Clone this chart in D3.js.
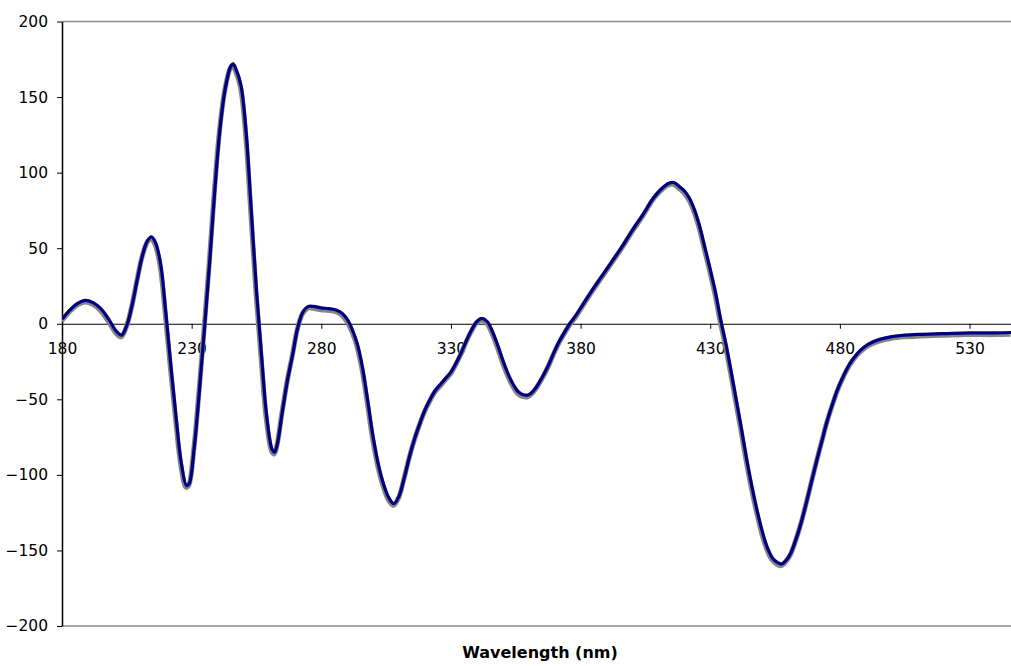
<!DOCTYPE html>
<html>
<head>
<meta charset="utf-8">
<script src="https://cdn.jsdelivr.net/npm/d3@7"></script>
<style>
  html, body { margin: 0; padding: 0; background: #fff; }
  svg { display: block; font-family: "DejaVu Sans", Verdana, sans-serif; }
</style>
</head>
<body>
<svg id="chart" width="1011" height="666"></svg>
<script>
// ---- data ----
const wavelengths = [180,183,186,189,192,195,198,201,203,205,207,209,211,213,214.5,216,218,220,222,224,226,228,229,231,233,235,237,239,241,243,245,246,247,249,251,253,255,257,259,261,262,263,265,267,269,271,273,275,277,280,283,286,288,290,292,294,296,298,300,302,304,306,308,310,312,314,316,318,320,322,324,326,328,330,332,334,336,338,340,342,344,346,348,350,352,354,356,358,360,362,364,366,368,370,372,374,376,378,381,384,388,392,396,400,404,408,411,414,416,418,420,422,424,426,428,430,432,434,436,438,440,442,444,446,448,450,452,454,456,457.5,459,461,463,465,467,469,471,473,475,477,479,481,483,485,488,491,495,500,505,510,520,530,540,546];
const cdValues = [3,9,13.5,15.5,14,10,3,-5,-7.5,-1,12,29,45,55,57.5,54,40,8,-28,-62,-92,-107,-106,-82,-44,-2,42,90,130,156,170,172,169,158,127,75,22,-22,-62,-83,-85,-80,-58,-37,-20,-2,8,11.5,11.5,10.5,10,9,7,3,-4,-14,-30,-52,-75,-93,-106,-115,-119,-114,-102,-88,-76,-66,-57,-50,-44,-40,-36,-32,-26,-19,-11,-4,1.5,3.5,1.5,-5,-14,-24,-33,-40,-45,-47,-47,-44,-39,-33,-26,-18,-11,-5,0.5,5,13,21,31,41,51,62,72,83,89,93,93.5,91,88,83,75,64,50,36,21,3,-13,-31,-50,-69,-89,-107,-123,-137,-148,-155,-158,-159,-157,-152,-143,-132,-119,-105,-91,-78,-65,-54,-44,-36,-29,-23.5,-17.5,-13.5,-10.5,-8.5,-7.5,-7,-6.5,-6,-6,-5.8];
const xTicks = [180,230,280,330,380,430,480,530];
const yTicks = [-200,-150,-100,-50,0,50,100,150,200];
const xTitle = "Wavelength (nm)";

// ---- layout ----
const svg = d3.select("#chart");
const mLeft = 62, mRight = 1011, mTop = 21.5, mBottom = 626;

const x = d3.scaleLinear().domain([180, 546]).range([mLeft, mRight]);
const y = d3.scaleLinear().domain([-200, 200]).range([mBottom, mTop]);

// frame lines (top & bottom, gray)
svg.append("line").attr("x1", mLeft).attr("x2", mRight).attr("y1", y(200)).attr("y2", y(200))
  .attr("stroke", "#8c8c8c").attr("stroke-width", 1.5);
svg.append("line").attr("x1", mLeft).attr("x2", mRight).attr("y1", y(-200)).attr("y2", y(-200))
  .attr("stroke", "#8c8c8c").attr("stroke-width", 1.5);

// y axis
const yAxis = svg.append("g").attr("transform", `translate(${mLeft},0)`)
  .call(d3.axisLeft(y).tickValues(yTicks).tickSize(5).tickSizeOuter(0).tickPadding(9).tickFormat(d3.format("d")));
yAxis.select(".domain").attr("stroke", "#000").attr("stroke-width", 1.5);
yAxis.selectAll(".tick line").attr("stroke", "#000");
yAxis.selectAll(".tick text").attr("font-size", "15.5px").attr("fill", "#000")
  .attr("font-family", "DejaVu Sans, Verdana, sans-serif");

// x axis at zero
const xAxis = svg.append("g").attr("transform", `translate(0,${y(0)})`)
  .call(d3.axisBottom(x).tickValues(xTicks).tickSize(5).tickSizeOuter(0).tickPadding(14).tickFormat(d3.format("d")));
xAxis.select(".domain").attr("stroke", "#000").attr("stroke-width", 1.2);
xAxis.selectAll(".tick line").attr("stroke", "#000");
xAxis.selectAll(".tick text").attr("font-size", "15.5px").attr("fill", "#000")
  .attr("font-family", "DejaVu Sans, Verdana, sans-serif");

// data lines
const data = wavelengths.map((w, i) => ({ w, v: cdValues[i] }));
const line = d3.line().x(d => x(d.w)).y(d => y(d.v)).curve(d3.curveCatmullRom.alpha(0.5));

svg.append("clipPath").attr("id", "clip").append("rect")
  .attr("x", mLeft).attr("y", 0).attr("width", mRight - mLeft).attr("height", 666);

const g = svg.append("g").attr("clip-path", "url(#clip)");
g.append("path").datum(data).attr("d", line)
  .attr("fill", "none").attr("stroke", "#858585").attr("stroke-width", 5)
  .attr("stroke-linejoin", "round").attr("transform", "translate(-0.5,1.8)");
g.append("path").datum(data).attr("d", line)
  .attr("fill", "none").attr("stroke", "#000080").attr("stroke-width", 3.2)
  .attr("stroke-linejoin", "round");

// x title
svg.append("text").attr("x", 540).attr("y", 658).attr("text-anchor", "middle")
  .attr("font-size", "16px").attr("font-weight", "bold").attr("fill", "#000")
  .text(xTitle);
</script>
</body>
</html>
